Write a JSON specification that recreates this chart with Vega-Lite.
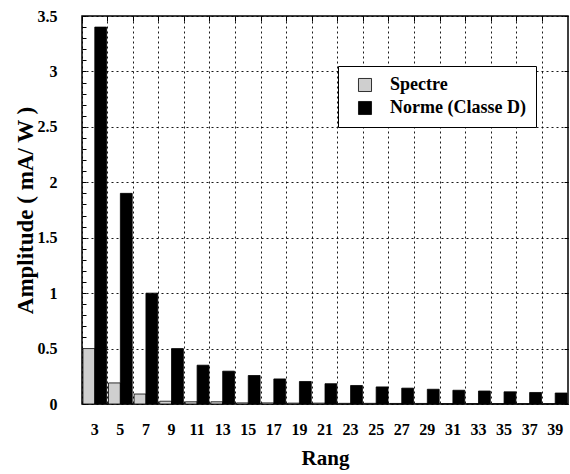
{
  "$schema": "https://vega.github.io/schema/vega-lite/v6.json",
  "width": 486,
  "height": 388,
  "autosize": "none",
  "padding": {"left": 82, "top": 16, "right": 2, "bottom": 70},
  "background": "white",
  "config": {
    "view": {"stroke": "black", "strokeWidth": 1.5},
    "font": "Liberation Serif",
    "axis": {"labelFont": "Liberation Serif", "titleFont": "Liberation Serif", "labelFontWeight": "bold", "titleFontWeight": "bold", "labelColor": "black", "titleColor": "black", "domain": false, "tickColor": "black"}
  },
  "data": {
    "values": [
      {"rang": 3, "serie": "Spectre", "amp": 0.5},
      {"rang": 5, "serie": "Spectre", "amp": 0.19},
      {"rang": 7, "serie": "Spectre", "amp": 0.09},
      {"rang": 9, "serie": "Spectre", "amp": 0.025},
      {"rang": 11, "serie": "Spectre", "amp": 0.02},
      {"rang": 13, "serie": "Spectre", "amp": 0.02},
      {"rang": 15, "serie": "Spectre", "amp": 0.01},
      {"rang": 17, "serie": "Spectre", "amp": 0.01},
      {"rang": 19, "serie": "Spectre", "amp": 0.008},
      {"rang": 21, "serie": "Spectre", "amp": 0.008},
      {"rang": 23, "serie": "Spectre", "amp": 0.006},
      {"rang": 25, "serie": "Spectre", "amp": 0.006},
      {"rang": 27, "serie": "Spectre", "amp": 0.005},
      {"rang": 29, "serie": "Spectre", "amp": 0.005},
      {"rang": 31, "serie": "Spectre", "amp": 0.004},
      {"rang": 33, "serie": "Spectre", "amp": 0.004},
      {"rang": 35, "serie": "Spectre", "amp": 0.004},
      {"rang": 37, "serie": "Spectre", "amp": 0.003},
      {"rang": 39, "serie": "Spectre", "amp": 0.003},
      {"rang": 3, "serie": "Norme (Classe D)", "amp": 3.4},
      {"rang": 5, "serie": "Norme (Classe D)", "amp": 1.9},
      {"rang": 7, "serie": "Norme (Classe D)", "amp": 1.0},
      {"rang": 9, "serie": "Norme (Classe D)", "amp": 0.5},
      {"rang": 11, "serie": "Norme (Classe D)", "amp": 0.35},
      {"rang": 13, "serie": "Norme (Classe D)", "amp": 0.296},
      {"rang": 15, "serie": "Norme (Classe D)", "amp": 0.257},
      {"rang": 17, "serie": "Norme (Classe D)", "amp": 0.226},
      {"rang": 19, "serie": "Norme (Classe D)", "amp": 0.203},
      {"rang": 21, "serie": "Norme (Classe D)", "amp": 0.183},
      {"rang": 23, "serie": "Norme (Classe D)", "amp": 0.167},
      {"rang": 25, "serie": "Norme (Classe D)", "amp": 0.154},
      {"rang": 27, "serie": "Norme (Classe D)", "amp": 0.143},
      {"rang": 29, "serie": "Norme (Classe D)", "amp": 0.133},
      {"rang": 31, "serie": "Norme (Classe D)", "amp": 0.124},
      {"rang": 33, "serie": "Norme (Classe D)", "amp": 0.117},
      {"rang": 35, "serie": "Norme (Classe D)", "amp": 0.11},
      {"rang": 37, "serie": "Norme (Classe D)", "amp": 0.104},
      {"rang": 39, "serie": "Norme (Classe D)", "amp": 0.099}
    ]
  },
  "resolve": {"axis": {"y": "independent", "x": "independent"}},
  "layer": [
    {
      "transform": [{"filter": "datum.serie === 'Spectre'"}],
      "mark": {"type": "bar", "stroke": "black", "strokeWidth": 0.8},
      "encoding": {
        "x": {"field": "rang", "type": "ordinal", "sort": null, "title": "Rang",
          "scale": {"paddingInner": 0, "paddingOuter": 0},
          "axis": {"orient": "bottom", "labelAngle": 0, "labelFontSize": 16, "titleFontSize": 21, "labelPadding": 17, "titlePadding": 10, "ticks": false, "grid": true, "bandPosition": 0, "gridColor": "black", "gridDash": [2, 3], "gridWidth": 1, "gridOpacity": 0.9}},
        "xOffset": {"field": "serie", "type": "nominal", "sort": ["Spectre", "Norme (Classe D)"], "scale": {"paddingOuter": 0.08, "paddingInner": 0}},
        "y": {"field": "amp", "type": "quantitative", "title": "Amplitude  ( mA/ W )",
          "scale": {"domain": [0, 3.5], "nice": false},
          "axis": {"orient": "left", "values": [0,0.1,0.2,0.3,0.4,0.5,0.6,0.7,0.8,0.9,1,1.1,1.2,1.3,1.4,1.5,1.6,1.7,1.8,1.9,2,2.1,2.2,2.3,2.4,2.5,2.6,2.7,2.8,2.9,3,3.1,3.2,3.3,3.4,3.5],
            "labelExpr": "indexof([0,0.5,1,1.5,2,2.5,3,3.5], datum.value) >= 0 ? datum.value + '' : ''",
            "tickSize": -4, "labelPadding": 29, "labelFontSize": 16, "titleFontSize": 23, "titlePadding": 0,
            "grid": false}},
        "color": {"field": "serie", "type": "nominal", "sort": ["Spectre", "Norme (Classe D)"],
          "scale": {"domain": ["Spectre", "Norme (Classe D)"], "range": ["#cfcfcf", "#000000"]},
          "legend": {"title": null, "orient": "none", "legendX": 256, "legendY": 50, "symbolType": "square", "symbolSize": 170, "symbolStrokeColor": "black", "symbolStrokeWidth": 0.8, "labelFont": "Liberation Serif", "labelFontWeight": "bold", "labelFontSize": 18, "labelColor": "black", "padding": 10, "rowPadding": 5, "labelOffset": 16, "strokeColor": "black", "fillColor": "white", "symbolOffset": 8, "labelLimit": 300}}
      }
    },
    {
      "transform": [{"filter": "datum.serie !== 'Spectre'"}],
      "mark": {"type": "bar", "stroke": "black", "strokeWidth": 0.8},
      "encoding": {
        "x": {"field": "rang", "type": "ordinal", "sort": null,
          "axis": {"orient": "top", "labels": false, "title": null, "tickSize": -5, "bandPosition": 0, "grid": false}},
        "xOffset": {"field": "serie", "type": "nominal", "sort": ["Spectre", "Norme (Classe D)"]},
        "y": {"field": "amp", "type": "quantitative",
          "axis": {"orient": "right", "values": [0,0.5,1,1.5,2,2.5,3,3.5], "labels": false, "title": null, "tickSize": -4, "grid": true, "gridColor": "black", "gridDash": [2, 3], "gridWidth": 1, "gridOpacity": 0.9}},
        "color": {"field": "serie", "type": "nominal", "sort": ["Spectre", "Norme (Classe D)"]}
      }
    }
  ]
}
